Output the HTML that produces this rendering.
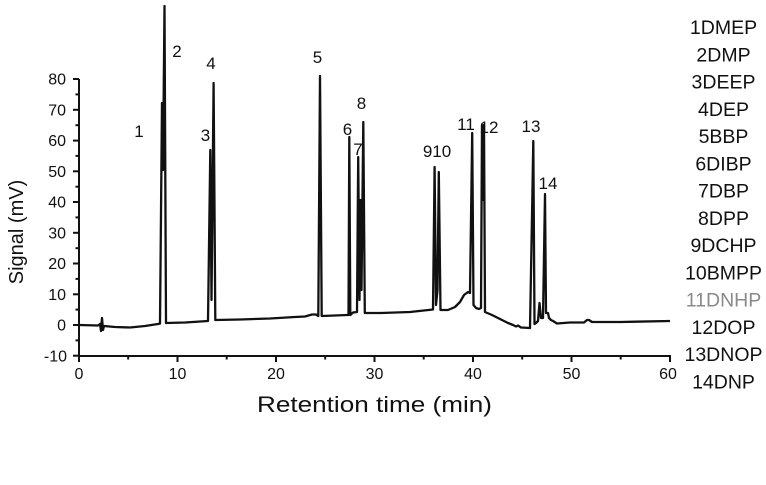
<!DOCTYPE html>
<html><head><meta charset="utf-8"><style>
html,body{margin:0;padding:0;background:#fff;}
svg{display:block;}
text{font-family:"Liberation Sans",Arial,sans-serif;fill:#111;}
</style></head><body>
<svg width="766" height="485" viewBox="0 0 766 485" xmlns="http://www.w3.org/2000/svg">
<rect width="766" height="485" fill="#fff"/>
<!-- axes -->
<g stroke="#111" stroke-width="2" fill="none">
<line x1="79" y1="79" x2="79" y2="356"/>
<line x1="78" y1="356" x2="671" y2="356"/>
<line x1="73" y1="79" x2="79" y2="79"/>
<line x1="73" y1="109.8" x2="79" y2="109.8"/>
<line x1="73" y1="140.6" x2="79" y2="140.6"/>
<line x1="73" y1="171.3" x2="79" y2="171.3"/>
<line x1="73" y1="202" x2="79" y2="202"/>
<line x1="73" y1="232.8" x2="79" y2="232.8"/>
<line x1="73" y1="263.5" x2="79" y2="263.5"/>
<line x1="73" y1="294.3" x2="79" y2="294.3"/>
<line x1="73" y1="325" x2="79" y2="325"/>
<line x1="73" y1="355.7" x2="79" y2="355.7"/>
<line x1="75.5" y1="94.4" x2="79" y2="94.4"/>
<line x1="75.5" y1="125.2" x2="79" y2="125.2"/>
<line x1="75.5" y1="155.9" x2="79" y2="155.9"/>
<line x1="75.5" y1="186.7" x2="79" y2="186.7"/>
<line x1="75.5" y1="217.4" x2="79" y2="217.4"/>
<line x1="75.5" y1="248.2" x2="79" y2="248.2"/>
<line x1="75.5" y1="278.9" x2="79" y2="278.9"/>
<line x1="75.5" y1="309.6" x2="79" y2="309.6"/>
<line x1="75.5" y1="340.4" x2="79" y2="340.4"/>
<line x1="79" y1="356" x2="79" y2="362"/>
<line x1="177.5" y1="356" x2="177.5" y2="362"/>
<line x1="276" y1="356" x2="276" y2="362"/>
<line x1="374.5" y1="356" x2="374.5" y2="362"/>
<line x1="473" y1="356" x2="473" y2="362"/>
<line x1="571.5" y1="356" x2="571.5" y2="362"/>
<line x1="670" y1="356" x2="670" y2="362"/>
<line x1="128.2" y1="356" x2="128.2" y2="359.5"/>
<line x1="226.7" y1="356" x2="226.7" y2="359.5"/>
<line x1="325.2" y1="356" x2="325.2" y2="359.5"/>
<line x1="423.7" y1="356" x2="423.7" y2="359.5"/>
<line x1="522.2" y1="356" x2="522.2" y2="359.5"/>
<line x1="620.7" y1="356" x2="620.7" y2="359.5"/>
</g>
<!-- y tick labels -->
<g font-size="16" text-anchor="end">
<text x="66" y="84.7">80</text>
<text x="66" y="115.5">70</text>
<text x="66" y="146.2">60</text>
<text x="66" y="177">50</text>
<text x="66" y="207.7">40</text>
<text x="66" y="238.5">30</text>
<text x="66" y="269.2">20</text>
<text x="66" y="300">10</text>
<text x="66" y="330.7">0</text>
<text x="67" y="361.4">-10</text>
</g>
<!-- x tick labels -->
<g font-size="16" text-anchor="middle">
<text x="79" y="379">0</text>
<text x="177.5" y="379">10</text>
<text x="276" y="379">20</text>
<text x="374.5" y="379">30</text>
<text x="473" y="379">40</text>
<text x="571.5" y="379">50</text>
<text x="668" y="379">60</text>
</g>
<!-- axis titles -->
<text x="257" y="412" font-size="22" textLength="235" lengthAdjust="spacingAndGlyphs">Retention time (min)</text>
<text transform="translate(23,232) rotate(-90)" font-size="20" text-anchor="middle">Signal (mV)</text>
<!-- chromatogram -->
<path fill="none" stroke="#111" stroke-width="2.3" stroke-linejoin="round" d="
M79 325 L98 325.5 L100 324 L101 331 L102 318 L103 330 L104 326 L115 327 L130 327.5 L145 326 L158 324 L160 323.5
L162 103 L163 170 L164.5 6 L166 323 L185 322.5 L208 321
L210.3 150 L211.5 300 L213.6 83 L215.3 320 L240 319.5 L270 318.5 L295 317 L305 316.5 L312 314.5 L316 314.5 L318.3 316
L320 76 L321.7 316 L335 315.5 L347 315
L348.5 315 L349.3 137 L350.3 315 L353 312.5 L357 312
L358.2 157 L359.5 300 L360.5 200 L361.5 290 L363.3 122 L364.8 313 L380 313 L410 312 L433 309.5
L434.6 167 L436 305 L437.5 290 L438.8 172 L440.5 310 L448 310 L455 307 L460 302 L464 295 L468 292 L470 293
L472.2 133 L473.5 305 L476 308 L479 309 L481 308 L482 125 L483.3 200 L484 125 L485 312
L492 315 L500 319 L508 323 L513 325 L516 326.5 L518 325.5 L521 327.5 L530 328
L532.3 200 L533.3 141 L534.5 324 L536 323 L538 321 L539.5 303 L541 318 L543 318
L545 194 L546 313 L548 313 L549 318 L551 320 L553 321 L557 323.5 L570 322.5 L584 322.5 L587 320 L589 320 L592 322 L620 322 L670 321"/>
<!-- peak labels -->
<g font-size="17" text-anchor="middle">
<text x="139" y="137">1</text>
<text x="177" y="57">2</text>
<text x="205.5" y="141">3</text>
<text x="211" y="69">4</text>
<text x="317.5" y="63">5</text>
<text x="347.5" y="135">6</text>
<text x="358" y="155">7</text>
<text x="361.5" y="109">8</text>
<text x="437" y="157">910</text>
<text x="466" y="130">11</text>
<text x="489" y="133">12</text>
<text x="531" y="132">13</text>
<text x="548" y="189">14</text>
</g>
<!-- legend -->
<g font-size="19.5" text-anchor="middle">
<text x="723.5" y="34">1DMEP</text>
<text x="723.5" y="61.3">2DMP</text>
<text x="723.5" y="88.5">3DEEP</text>
<text x="723.5" y="115.8">4DEP</text>
<text x="723.5" y="143">5BBP</text>
<text x="723.5" y="170.3">6DIBP</text>
<text x="723.5" y="197.5">7DBP</text>
<text x="723.5" y="224.8">8DPP</text>
<text x="723.5" y="252">9DCHP</text>
<text x="723.5" y="279.3">10BMPP</text>
<text x="723.5" y="306.5" style="fill:#8a8a8a">11DNHP</text>
<text x="723.5" y="333.8">12DOP</text>
<text x="723.5" y="361">13DNOP</text>
<text x="723.5" y="388.3">14DNP</text>
</g>
</svg>
</body></html>
